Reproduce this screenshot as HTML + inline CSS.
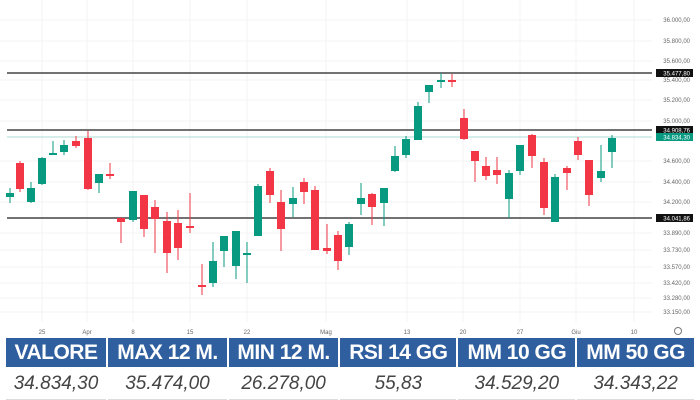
<!DOCTYPE html>
<html><head><meta charset="utf-8"><style>
body{margin:0;width:700px;height:400px;background:#fff;overflow:hidden;font-family:"Liberation Sans",sans-serif}
svg{position:absolute;left:0;top:0}
table{position:absolute;left:4px;top:338px;width:692px;border-collapse:separate;border-spacing:2px 0}
th{background:#2f5f9f;color:#fff;font-size:21px;font-weight:bold;height:29px;padding:0;font-family:"Liberation Sans Narrow","Liberation Sans",sans-serif;letter-spacing:-0.5px;border-bottom:2px solid #fff}
td{font-style:italic;font-size:19px;color:#444;height:30px;text-align:center;padding:0;border-bottom:1px solid #ddd;font-family:"Liberation Sans Narrow","Liberation Sans",sans-serif}
</style></head><body>
<svg id="s" width="700" height="340" xmlns="http://www.w3.org/2000/svg"></svg>
<table><tr><th>VALORE</th><th>MAX 12 M.</th><th>MIN 12 M.</th><th>RSI 14 GG</th><th>MM 10 GG</th><th>MM 50 GG</th></tr>
<tr><td>34.834,30</td><td>35.474,00</td><td>26.278,00</td><td>55,83</td><td>34.529,20</td><td>34.343,22</td></tr></table>
<script>
var s='';
var ly=[[20,'36.000,00'],[41,'35.800,00'],[61,'35.600,00'],[80,'35.400,00'],[100,'35.200,00'],[121,'35.000,00'],[161,'34.600,00'],[182,'34.400,00'],[202,'34.200,00'],[233,'33.890,00'],[250,'33.730,00'],[267,'33.570,00'],[283,'33.420,00'],[298,'33.280,00'],[312,'33.150,00']];
ly.forEach(function(a){s+='<line x1="0" x2="652" y1="'+a[0]+'" y2="'+a[0]+'" stroke="#f3f3f3"/><text x="690" y="'+(a[0]+2)+'" font-size="6" fill="#666" text-anchor="end">'+a[1]+'</text>';});
var xl=[[42,'25'],[87,'Apr'],[133,'8'],[190,'15'],[247,'22'],[326,'Mag'],[407,'13'],[463,'20'],[520,'27'],[576,'Giu'],[634,'10']];
xl.forEach(function(a){s+='<line x1="'+a[0]+'" x2="'+a[0]+'" y1="0" y2="322" stroke="#f3f3f3"/><text x="'+a[0]+'" y="334" font-size="6" fill="#666" text-anchor="middle">'+a[1]+'</text>';});
s+='<circle cx="678" cy="331" r="3.5" fill="none" stroke="#777" stroke-width="1"/>';
s+='<line x1="7" x2="652" y1="137" y2="137" stroke="#8fd3c8" stroke-width="0.7"/>';
[73,130,218].forEach(function(y){s+='<line x1="7" x2="652" y1="'+y+'" y2="'+y+'" stroke="#444" stroke-width="1.6"/>';});
var c=[[10,'g',193,197,188,203],[20,'r',163,189,161,192],[31,'g',188,202,182,203],[42,'g',158,184,157,185],[53,'g',153,154,141,155],[64,'g',145,152,140,155],[76,'r',141,146,136,148],[88,'r',138,189,131,190],[99,'g',174,183,174,193],[110,'r',174,176,163,179],[121,'r',218,222,217,243],[133,'g',191,220,191,222],[144,'r',195,229,195,237],[155,'r',207,219,200,253],[167,'r',221,253,212,273],[178,'r',223,248,210,260],[190,'r',226,228,193,233],[202,'r',285,287,264,295],[213,'g',261,283,242,287],[224,'g',236,251,236,267],[236,'g',231,266,231,279],[247,'g',253,254,242,283],[258,'g',186,236,184,236],[270,'r',171,195,168,203],[281,'r',202,229,190,251],[293,'g',198,204,187,217],[304,'r',182,192,178,204],[315,'r',190,250,186,250],[327,'r',248,251,224,254],[338,'r',235,261,231,270],[349,'g',224,247,222,255],[361,'g',198,204,183,215],[372,'r',194,207,193,225],[384,'g',188,203,188,226],[395,'g',156,171,146,172],[406,'g',139,155,136,158],[418,'g',106,140,102,140],[429,'g',85,92,85,103],[441,'g',80,81,73,88],[452,'r',80,81,74,87],[464,'r',118,139,109,140],[475,'r',151,161,151,182],[486,'r',166,176,157,180],[497,'r',170,175,157,184],[509,'g',173,199,170,218],[520,'g',145,171,145,175],[532,'r',135,156,134,168],[544,'r',162,208,158,215],[555,'g',177,222,174,222],[567,'r',168,173,166,190],[578,'r',141,155,137,160],[589,'r',160,195,160,206],[601,'g',171,178,145,182],[612,'g',138,152,135,168]];
c.forEach(function(k){var col=k[1]=='g'?'#089981':'#f23645';s+='<line x1="'+k[0]+'" x2="'+k[0]+'" y1="'+k[4]+'" y2="'+k[5]+'" stroke="'+col+'" stroke-width="1"/><rect x="'+(k[0]-4)+'" y="'+k[2]+'" width="8" height="'+Math.max(2,k[3]-k[2])+'" fill="'+col+'"/>';});
function lb(y,t,bg){s+='<rect x="656" y="'+(y-4)+'" width="37" height="8" fill="'+bg+'"/><text x="690" y="'+(y+2.5)+'" font-size="6" fill="#fff" text-anchor="end">'+t+'</text>';}
lb(73,'35.477,80','#111');lb(130,'34.908,76','#111');lb(137,'34.834,30','#089981');lb(218,'34.041,86','#111');
document.getElementById('s').innerHTML=s;
</script>
</body></html>
